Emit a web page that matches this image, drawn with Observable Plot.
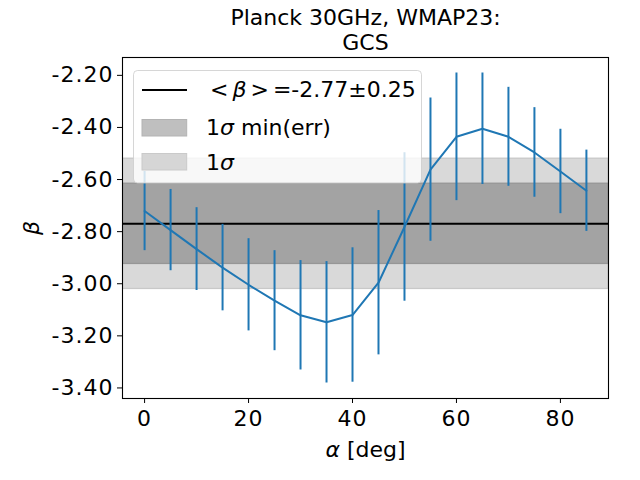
<!DOCTYPE html>
<html><head><meta charset="utf-8">
<script src="https://cdn.jsdelivr.net/npm/d3@7"></script>
<script src="https://cdn.jsdelivr.net/npm/@observablehq/plot@0.6"></script>
<style>
body{margin:0;background:#fff;}
#wrap{position:relative;width:640px;height:480px;font-family:"DejaVu Sans",sans-serif;}
#wrap svg{position:absolute;left:0;top:0;}
.tk text{letter-spacing:1px;}
</style></head><body><div id="wrap"></div>
<script>
// data
const alphaDeg = [0,5,10,15,20,25,30,35,40,45,50,55,60,65,70,75,80,85];
const betaVals = [-2.721,-2.794,-2.867,-2.938,-3.004,-3.065,-3.121,-3.148,-3.120,-2.996,-2.782,-2.562,-2.436,-2.405,-2.436,-2.496,-2.569,-2.643];
const betaErr  = [0.152,0.156,0.159,0.166,0.177,0.192,0.210,0.233,0.258,0.277,0.285,0.275,0.245,0.214,0.190,0.172,0.162,0.156];
const meanBeta = -2.77;
const sigmaBeta = 0.25;
const minErrBand = 0.154;
const xTicks = [0,20,40,60,80];
const yTicks = [-2.2,-2.4,-2.6,-2.8,-3.0,-3.2,-3.4];
const titleLines = ["Planck 30GHz, WMAP23:", "GCS"];

const data = alphaDeg.map((a,i)=>({alpha:a, beta:betaVals[i], err:betaErr[i]}));

// matplotlib-like 5% padding
const xmin = d3.min(alphaDeg), xmax = d3.max(alphaDeg);
const xpad = (xmax-xmin)*0.05;
const ylo = d3.min(data, d=>d.beta-d.err), yhi = d3.max(data, d=>d.beta+d.err);
const ypad = (yhi-ylo)*0.05;

const blue = "#1f77b4";
const FS = 22;

const chart = Plot.plot({
  width: 640, height: 480,
  marginLeft: 122, marginRight: 32, marginTop: 57, marginBottom: 82,
  style: {fontFamily: "DejaVu Sans", fontSize: FS+"px", color: "black", background: "white"},
  x: {domain: [xmin-xpad, xmax+xpad]},
  y: {domain: [ylo-ypad, yhi+ypad]},
  marks: [
    Plot.rect([meanBeta], {y1: d=>d-sigmaBeta, y2: d=>d+sigmaBeta, fill: "#d9d9d9", stroke: "#c8c8c8", strokeWidth: 1.3, clip: true}),
    Plot.rect([meanBeta], {y1: d=>d-minErrBand, y2: d=>d+minErrBand, fill: "#a3a3a3", stroke: "#969696", strokeWidth: 1.3, clip: true}),
    Plot.ruleY([meanBeta], {stroke: "black", strokeWidth: 2}),
    Plot.ruleX(data, {x: "alpha", y1: d=>d.beta-d.err, y2: d=>d.beta+d.err, stroke: blue, strokeWidth: 2}),
    Plot.line(data, {x: "alpha", y: "beta", stroke: blue, strokeWidth: 2}),
    Plot.frame({stroke: "black", strokeWidth: 1.1}),
    Plot.axisX({ticks: xTicks, tickSize: 5, tickPadding: 7, tickFormat: d=>String(d), fontSize: FS, label: null, className: "tk"}),
    Plot.axisY({ticks: yTicks, tickSize: 5, tickPadding: 4, tickFormat: d=>d.toFixed(2), fontSize: FS, label: null, className: "tk"}),
    Plot.text([titleLines.join("\n")], {frameAnchor: "top", dy: -7.7, lineAnchor: "bottom", lineHeight: 1.15, fontSize: 22, textAnchor: "middle"}),
    Plot.text(["α [deg]"], {frameAnchor: "bottom", dy: 51, lineAnchor: "middle", fontSize: FS, textAnchor: "middle"}),
    Plot.text(["β"], {frameAnchor: "left", dx: -91, rotate: -90, lineAnchor: "middle", textAnchor: "middle", fontSize: FS, fontStyle: "italic"})
  ]
});
document.getElementById("wrap").appendChild(chart);

// italic alpha in x label
d3.select(chart).selectAll("text").each(function(){
  if (this.textContent === "α [deg]") {
    const t = d3.select(this); t.text("");
    t.append("tspan").attr("font-style","italic").text("α");
    t.append("tspan").text(" [deg]");
  }
});

// legend overlay
const leg = d3.select(document.getElementById("wrap")).append("svg")
  .attr("width",640).attr("height",480)
  .style("font-family","DejaVu Sans").style("font-size",FS+"px");
leg.append("rect").attr("x",133.5).attr("y",70.5).attr("width",288).attr("height",112.5).attr("rx",4)
  .attr("fill","white").attr("fill-opacity",0.8).attr("stroke","#cccccc").attr("stroke-opacity",0.8);
leg.append("line").attr("x1",142).attr("x2",187).attr("y1",90).attr("y2",90).attr("stroke","black").attr("stroke-width",2);
const t1 = leg.append("text").attr("x",210).attr("y",97);
t1.append("tspan").text("<");
t1.append("tspan").attr("dx",4).attr("font-style","italic").text("β");
t1.append("tspan").attr("dx",4).text(">");
t1.append("tspan").attr("dx",4).text("=" + meanBeta.toFixed(2) + "±" + sigmaBeta.toFixed(2));
leg.append("rect").attr("x",142).attr("y",119.5).attr("width",44.7).attr("height",16.5)
  .attr("fill","#bfbfbf").attr("stroke","#b3b3b3");
const t2 = leg.append("text").attr("x",206).attr("y",135);
t2.append("tspan").text("1");
t2.append("tspan").attr("font-style","italic").text("σ");
t2.append("tspan").text(" min(err)");
leg.append("rect").attr("x",142).attr("y",153.5).attr("width",44.7).attr("height",16.5)
  .attr("fill","#d6d6d6").attr("stroke","#cacaca");
const t3 = leg.append("text").attr("x",206).attr("y",170);
t3.append("tspan").text("1");
t3.append("tspan").attr("font-style","italic").text("σ");
</script>
</body></html>
